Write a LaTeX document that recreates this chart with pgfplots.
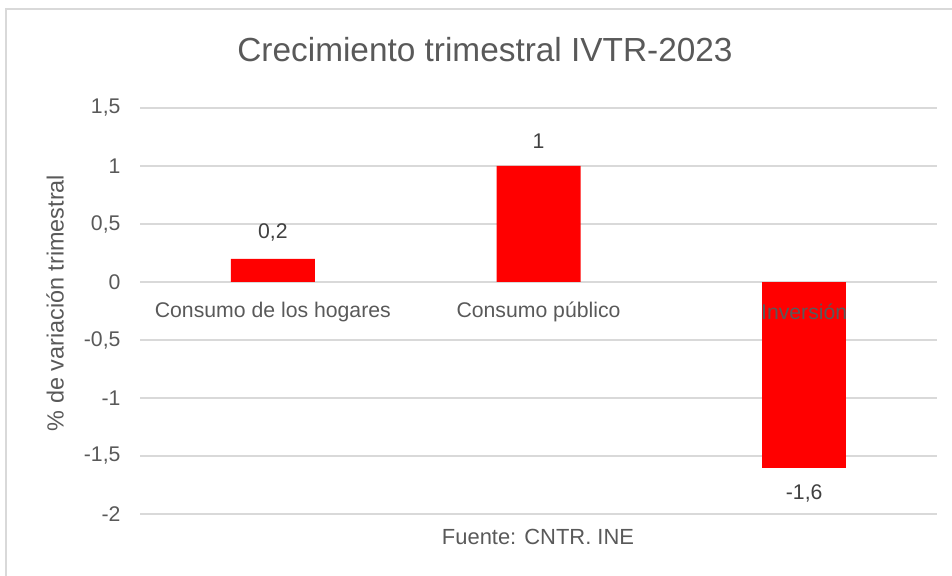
\documentclass[border=0pt]{standalone}
\usepackage{pgfplots}
\pgfplotsset{compat=1.18}
\usepackage{fontspec}
\setmainfont{Liberation Sans}
\definecolor{txt}{HTML}{595959}
\definecolor{dtxt}{HTML}{404040}
\definecolor{gridc}{HTML}{D9D9D9}
\newcommand{\lbl}{\fontsize{21.3}{25}\selectfont}
\newcommand{\ttl}{\fontsize{33.5}{40}\selectfont}
\pgfplotstableread{
x y lab
0 0.2 0,2
1 1 1
}\postab
\pgfplotstableread{
x y lab
2 -1.6 -1,6
}\negtab
\begin{document}
\begin{tikzpicture}[x=1bp,y=1bp]
\path[use as bounding box] (0,0) rectangle (952,576);
\draw[gridc, line width=1.5bp] (6,0) -- (6,567) -- (952,567);
\node[txt, font=\ttl] at (485,526) {Crecimiento trimestral IVTR-2023};
\node[txt, rotate=90, font=\fontsize{23.5}{28}\selectfont] at (55,273) {\% de variación trimestral};
\node[txt, font=\fontsize{22}{26}\selectfont] at (538,39) {Fuente: CNTR. INE};
\begin{axis}[
  at={(140bp,62bp)}, anchor=south west,
  scale only axis, width=797bp, height=406bp,
  xmin=-0.5, xmax=2.5, ymin=-2, ymax=1.5,
  ytick={-2,-1.5,-1,-0.5,0,0.5,1,1.5},
  yticklabels={-2,{-1,5},-1,{-0,5},0,{0,5},1,{1,5}},
  xtick=\empty,
  axis line style={draw=none},
  major tick length=0pt,
  ymajorgrids,
  grid style={gridc, line width=1.5bp},
  tick label style={txt, font=\lbl},
  yticklabel style={xshift=-16bp},
  clip=false,
]
\addplot[ybar, bar width=84bp, bar shift=0pt, fill=red, draw=none,
  nodes near coords, point meta=explicit symbolic,
  every node near coord/.append style={dtxt, font=\lbl, inner ysep=17bp, anchor=south}]
  table[x=x, y=y, meta=lab] {\postab};
\addplot[ybar, bar width=84bp, bar shift=0pt, fill=red, draw=none,
  nodes near coords, point meta=explicit symbolic,
  every node near coord/.append style={dtxt, font=\lbl, inner ysep=17bp, anchor=north}]
  table[x=x, y=y, meta=lab] {\negtab};
\node[txt, font=\lbl, yshift=-30bp] at (axis cs:0,0) {Consumo de los hogares};
\node[txt, font=\lbl, yshift=-30bp] at (axis cs:1,0) {Consumo público};
\node[txt, font=\lbl, yshift=-30bp] at (axis cs:2,0) {Inversión};
\end{axis}
\end{tikzpicture}
\end{document}
